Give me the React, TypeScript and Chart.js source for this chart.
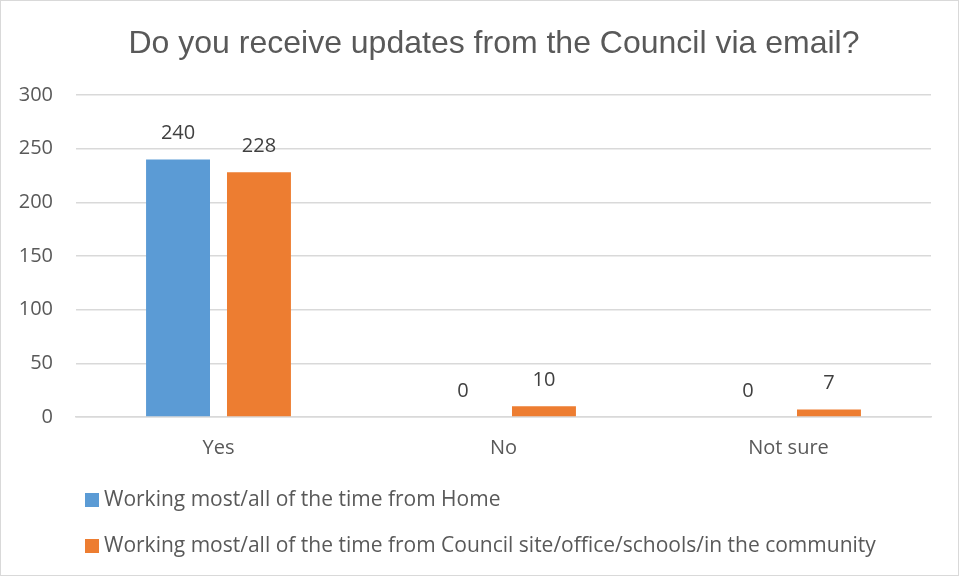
import React, { useEffect, useRef } from "react";
import { Chart, registerables } from "chart.js";

Chart.register(...registerables);

const TITLE = "Do you receive updates from the Council via email?";
const categories = ["Yes", "No", "Not sure"];
const seriesNames = [
  "Working most/all of the time from Home",
  "Working most/all of the time from Council site/office/schools/in the community",
];
const homeValues = [240, 0, 0];
const siteValues = [228, 10, 7];
const colors = ["#5B9BD5", "#ED7D31"];
const FONT = "'Open Sans', sans-serif";

const customPlugin = {
  id: "custom",
  afterDraw(chart: any) {
    const ctx = chart.ctx;
    ctx.save();
    // border
    ctx.strokeStyle = "#D9D9D9";
    ctx.lineWidth = 1;
    ctx.strokeRect(0.5, 0.5, chart.width - 1, chart.height - 1);
    // title
    ctx.fillStyle = "#595959";
    ctx.font = "32px 'Liberation Sans', Arial, sans-serif";
    ctx.textAlign = "center";
    ctx.textBaseline = "middle";
    ctx.fillText(TITLE, 494, 44);
    // data labels
    ctx.fillStyle = "#404040";
    ctx.font = `20px ${FONT}`;
    chart.data.datasets.forEach((ds: any, i: number) => {
      const meta = chart.getDatasetMeta(i);
      meta.data.forEach((bar: any, j: number) => {
        ctx.fillText(String(ds.data[j]), bar.x, bar.y - 26);
      });
    });
    // legend
    ctx.textAlign = "left";
    ctx.font = `21px ${FONT}`;
    const ys = [500, 546];
    seriesNames.forEach((name, i) => {
      ctx.fillStyle = colors[i];
      ctx.fillRect(85, ys[i] - 7, 14, 14);
      ctx.fillStyle = "#595959";
      ctx.fillText(name, 104, ys[i]);
    });
    ctx.restore();
  },
};

export default function App() {
  const ref = useRef<HTMLCanvasElement>(null);
  useEffect(() => {
    document.body.style.margin = "0";
    const chart = new Chart(ref.current!, {
      type: "bar",
      data: {
        labels: categories,
        datasets: [
          { label: seriesNames[0], data: homeValues, backgroundColor: colors[0], categoryPercentage: 0.568, barPercentage: 0.79 },
          { label: seriesNames[1], data: siteValues, backgroundColor: colors[1], categoryPercentage: 0.568, barPercentage: 0.79 },
        ],
      },
      options: {
        responsive: false,
        animation: false,
        layout: { padding: { left: 0, right: 28, top: 95, bottom: 105 } },
        plugins: { legend: { display: false }, title: { display: false }, tooltip: { enabled: false } },
        scales: {
          x: {
            grid: { display: false },
            border: { display: true, color: "#D9D9D9", width: 1.5 },
            ticks: { color: "#595959", font: { family: FONT, size: 20 }, padding: 11 },
          },
          y: {
            min: 0,
            max: 300,
            afterFit: (s: any) => { s.width = 76; },
            grid: { color: "#D9D9D9", drawTicks: false, lineWidth: 1.5 },
            border: { display: false },
            ticks: { stepSize: 50, color: "#595959", font: { family: FONT, size: 20 }, padding: 23 },
          },
        },
      },
      plugins: [customPlugin],
    });
    return () => chart.destroy();
  }, []);
  return (
    <div style={{ position: "absolute", left: 0, top: 0 }}>
      <canvas ref={ref} width={959} height={576} style={{ display: "block", background: "#fff" }} />
    </div>
  );
}
